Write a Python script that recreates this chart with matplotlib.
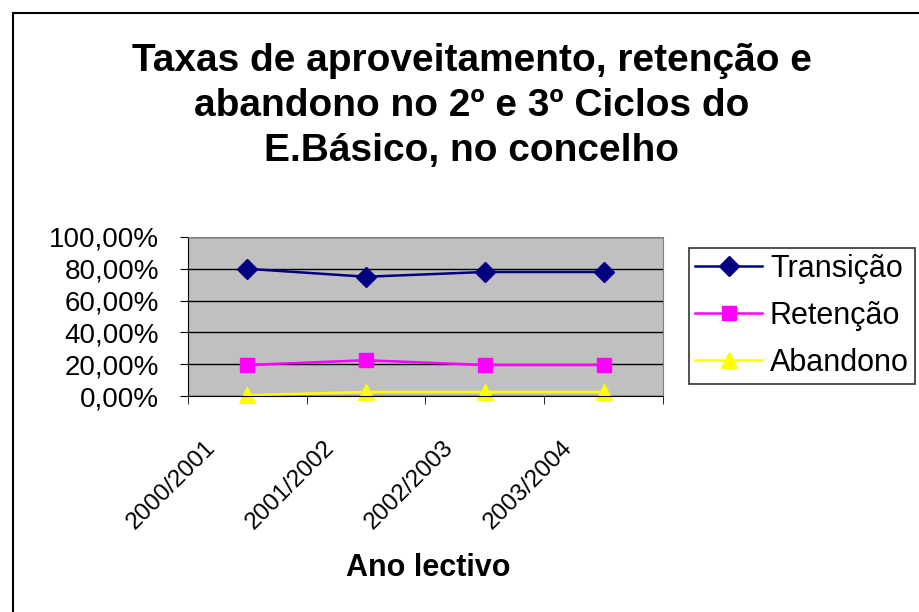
import matplotlib
matplotlib.use("Agg")
import matplotlib.pyplot as plt
from matplotlib.patches import Rectangle
from matplotlib.ticker import FuncFormatter, FixedLocator
import matplotlib.transforms as mtransforms

plt.rcParams['font.family'] = ['Liberation Sans', 'DejaVu Sans']

anos = ['2000/2001', '2001/2002', '2002/2003', '2003/2004']
transicao = [80.0, 75.0, 78.0, 78.0]
retencao = [19.5, 22.5, 19.5, 19.5]
abandono = [0.5, 2.5, 2.5, 2.5]

fig = plt.figure(figsize=(9.2, 6.12), dpi=100)
fig.patches.append(Rectangle((13/920, -0.05), 1.0, 1 - 13/612 + 0.05, transform=fig.transFigure,
                             fill=False, edgecolor='black', linewidth=1.5))

ax = fig.add_axes([188/920, 1 - 396/612, (663 - 188)/920, (396 - 237)/612])
ax.set_facecolor('#C0C0C0')
x = range(len(anos))
ax.plot(x, transicao, color='#000080', marker='D', markersize=10, linewidth=1.8, label='Transição')
ax.plot(x, retencao, color='#FF00FF', marker='s', markersize=10, linewidth=1.8, label='Retenção')
ax.plot(x, abandono, color='#FFFF00', marker='^', markersize=12, linewidth=1.8, label='Abandono', clip_on=False)

ax.set_xlim(-0.5, len(anos) - 0.5)
ax.set_ylim(0, 100)
ax.set_yticks([0, 20, 40, 60, 80, 100])
ax.yaxis.set_major_formatter(FuncFormatter(lambda v, p: ('%.2f%%' % v).replace('.', ',')))
ax.grid(axis='y', color='black', linewidth=1)
ax.set_axisbelow(True)
for s in ['top', 'right']:
    ax.spines[s].set_color('#808080')
ax.spines['left'].set_color('black')
ax.spines['bottom'].set_color('black')

ax.set_xticks(list(x))
ax.set_xticklabels(anos, rotation=45, ha='right', va='center', rotation_mode='anchor', fontsize=17.5)
ax.tick_params(axis='x', length=0, pad=0)
ax.xaxis.set_minor_locator(FixedLocator([i - 0.5 for i in range(len(anos) + 1)]))
ax.tick_params(axis='x', which='minor', length=6, direction='out', color='black')
ax.tick_params(axis='y', length=6, direction='out', labelsize=20, pad=15)
off = mtransforms.ScaledTranslation(-0.35, -0.48, fig.dpi_scale_trans)
for lab in ax.get_xticklabels():
    lab.set_transform(lab.get_transform() + off)

fig.text(472/920, 1 - 106/612, 'Taxas de aproveitamento, retenção e\nabandono no 2º e 3º Ciclos do\nE.Básico, no concelho',
         ha='center', va='center', fontsize=28, fontweight='bold', linespacing=1.33)
fig.text(428/920, 1 - 568/612, 'Ano lectivo', ha='center', va='center', fontsize=22, fontweight='bold')

leg = fig.legend(loc='upper left', bbox_to_anchor=(689/920, 1 - 248/612), fontsize=22,
                 frameon=True, fancybox=False, edgecolor='black', handlelength=2.2,
                 borderpad=0.2, borderaxespad=0, labelspacing=0.55, handletextpad=0.25)
leg.get_frame().set_linewidth(1.2)

fig.savefig('out.png', dpi=100)
